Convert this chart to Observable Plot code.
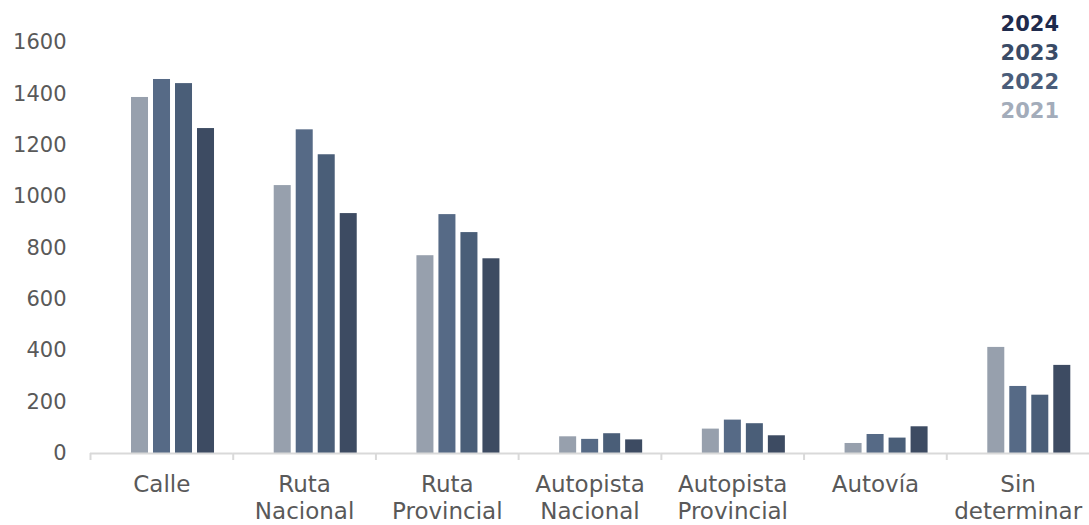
<!DOCTYPE html>
<html>
<head>
<meta charset="utf-8">
<script src="https://cdn.jsdelivr.net/npm/d3@7"></script>
<script src="https://cdn.jsdelivr.net/npm/@observablehq/plot@0.6"></script>
<style>
  html, body { margin: 0; padding: 0; background: #fff; }
  #wrap { position: relative; width: 1089px; height: 525px; }
  #legend { position: absolute; top: 10px; right: 30px; text-align: right;
    font-family: "DejaVu Sans", sans-serif; font-weight: bold; font-size: 21px; line-height: 29px; }
</style>
</head>
<body>
<div id="wrap"><div id="legend"></div></div>
<script>
const categories = ["Calle", "Ruta\nNacional", "Ruta\nProvincial", "Autopista\nNacional", "Autopista\nProvincial", "Autovía", "Sin\ndeterminar"];
const years = ["2021", "2022", "2023", "2024"];
const values2021 = [1386, 1043, 770, 65, 95, 39, 413];
const values2022 = [1456, 1260, 930, 55, 130, 74, 261];
const values2023 = [1440, 1163, 860, 77, 116, 60, 227];
const values2024 = [1265, 934, 758, 53, 69, 104, 343];
const yTicks = [0, 200, 400, 600, 800, 1000, 1200, 1400, 1600];
const barColors = ["#97a0ad", "#566a86", "#4a5e78", "#3d4b62"];
const legendColors = ["#a3acba", "#4a5d7a", "#3a4b66", "#1f2b4d"];

const series = [values2021, values2022, values2023, values2024];
const data = [];
years.forEach((yr, i) => categories.forEach((c, j) => data.push({category: c, year: yr, value: series[i][j]})));

const W = 1089, H = 525, mL = 90, mR = 0;
const bandW = (W - mL - mR) / categories.length;

const chart = Plot.plot({
  width: W, height: H,
  marginLeft: mL, marginRight: mR, marginTop: 42, marginBottom: 72,
  style: {fontFamily: "DejaVu Sans, sans-serif", background: "transparent", color: "#595959"},
  fx: {domain: categories, padding: 0, round: false, label: null},
  x: {domain: years, paddingInner: 0.227, paddingOuter: 0, round: false, insetLeft: 41, insetRight: 18.7, axis: null},
  y: {domain: [0, 1600], label: null},
  color: {domain: years, range: barColors},
  marks: [
    Plot.barY(data, {fx: "category", x: "year", y: "value", fill: "year"}),
    Plot.ruleY([0], {stroke: "#d9d9d9", strokeWidth: 2}),
    Plot.axisY({ticks: yTicks, tickFormat: "d", tickSize: 0, tickPadding: 24, fontSize: 21, fill: "#595959", label: null}),
    Plot.axisFx({anchor: "bottom", tickSize: 0, tickPadding: 20, fontSize: 23, fill: "#595959", lineHeight: 1.15, label: null}),
    Plot.axisFx({anchor: "bottom", tickSize: 7, tickFormat: () => "", dx: -bandW / 2, stroke: "#d9d9d9", strokeWidth: 2, label: null})
  ]
});
document.getElementById("wrap").prepend(chart);

const legend = document.getElementById("legend");
years.slice().reverse().forEach((yr) => {
  const i = years.indexOf(yr);
  const d = document.createElement("div");
  d.textContent = yr;
  d.style.color = legendColors[i];
  legend.appendChild(d);
});
</script>
</body>
</html>
